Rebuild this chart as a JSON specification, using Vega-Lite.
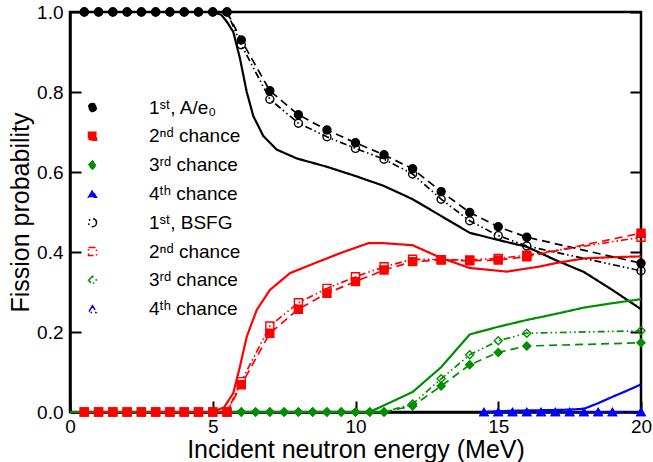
{
  "$schema": "https://vega.github.io/schema/vega-lite/v6.json",
  "width": 571,
  "height": 400,
  "autosize": {"type": "none"},
  "padding": {"left": 70, "top": 12, "right": 12, "bottom": 50},
  "background": "white",
  "config": {
    "view": {"stroke": "black", "strokeWidth": 2.5},
    "font": "Liberation Sans",
    "axis": {
      "domainColor": "black",
      "labelColor": "black",
      "titleColor": "black",
      "domainWidth": 2.5,
      "labelFont": "Liberation Sans",
      "titleFont": "Liberation Sans",
      "titleFontWeight": "normal",
      "labelFontSize": 19,
      "titleFontSize": 25,
      "labelFlush": false
    },
    "legend": {
      "padding": 0,
      "symbolSize": 64,
      "symbolOffset": 0,
      "labelOffset": 47,
      "rowPadding": 8.8,
      "labelFontSize": 19,
      "labelFont": "Liberation Sans",
      "labelColor": "black",
      "symbolStrokeWidth": 1.5,
      "symbolDash": [1, 0]
    }
  },
  "datasets": {
    "d": [
      {"s": "m1", "x": 0, "y": 1}, {"s": "m1", "x": 5, "y": 1}, {"s": "m1", "x": 5.3, "y": 0.993}, {"s": "m1", "x": 5.5, "y": 0.975}, {"s": "m1", "x": 5.72, "y": 0.95}, {"s": "m1", "x": 5.95, "y": 0.885}, {"s": "m1", "x": 6.19, "y": 0.8}, {"s": "m1", "x": 6.42, "y": 0.74}, {"s": "m1", "x": 6.77, "y": 0.69}, {"s": "m1", "x": 7.24, "y": 0.656}, {"s": "m1", "x": 7.94, "y": 0.634}, {"s": "m1", "x": 9, "y": 0.613}, {"s": "m1", "x": 10, "y": 0.59}, {"s": "m1", "x": 11, "y": 0.565}, {"s": "m1", "x": 12, "y": 0.532}, {"s": "m1", "x": 13, "y": 0.49}, {"s": "m1", "x": 14, "y": 0.448}, {"s": "m1", "x": 15, "y": 0.43}, {"s": "m1", "x": 16, "y": 0.413}, {"s": "m1", "x": 17, "y": 0.38}, {"s": "m1", "x": 18, "y": 0.35}, {"s": "m1", "x": 19, "y": 0.305}, {"s": "m1", "x": 20, "y": 0.257},
      {"s": "m2", "x": 0, "y": 0}, {"s": "m2", "x": 5, "y": 0}, {"s": "m2", "x": 5.4, "y": 0.012}, {"s": "m2", "x": 5.72, "y": 0.047}, {"s": "m2", "x": 5.95, "y": 0.113}, {"s": "m2", "x": 6.19, "y": 0.188}, {"s": "m2", "x": 6.54, "y": 0.255}, {"s": "m2", "x": 7, "y": 0.305}, {"s": "m2", "x": 7.7, "y": 0.347}, {"s": "m2", "x": 8.5, "y": 0.37}, {"s": "m2", "x": 9.46, "y": 0.397}, {"s": "m2", "x": 10.45, "y": 0.422}, {"s": "m2", "x": 11, "y": 0.422}, {"s": "m2", "x": 12, "y": 0.417}, {"s": "m2", "x": 13, "y": 0.385}, {"s": "m2", "x": 14, "y": 0.36}, {"s": "m2", "x": 15.3, "y": 0.351}, {"s": "m2", "x": 16.4, "y": 0.363}, {"s": "m2", "x": 17, "y": 0.372}, {"s": "m2", "x": 18, "y": 0.384}, {"s": "m2", "x": 19, "y": 0.387}, {"s": "m2", "x": 20, "y": 0.389},
      {"s": "m3", "x": 0, "y": 0}, {"s": "m3", "x": 10.5, "y": 0}, {"s": "m3", "x": 12, "y": 0.05}, {"s": "m3", "x": 13, "y": 0.112}, {"s": "m3", "x": 14, "y": 0.194}, {"s": "m3", "x": 15, "y": 0.213}, {"s": "m3", "x": 16, "y": 0.23}, {"s": "m3", "x": 17, "y": 0.245}, {"s": "m3", "x": 18, "y": 0.261}, {"s": "m3", "x": 19, "y": 0.272}, {"s": "m3", "x": 20, "y": 0.282},
      {"s": "m4", "x": 14.5, "y": 0}, {"s": "m4", "x": 15, "y": 0.002}, {"s": "m4", "x": 16, "y": 0.004}, {"s": "m4", "x": 17, "y": 0.005}, {"s": "m4", "x": 17.5, "y": 0.006}, {"s": "m4", "x": 18, "y": 0.008}, {"s": "m4", "x": 18.5, "y": 0.022}, {"s": "m4", "x": 19, "y": 0.038}, {"s": "m4", "x": 19.5, "y": 0.053}, {"s": "m4", "x": 20, "y": 0.069},
      {"s": "a1", "x": 0.5, "y": 1}, {"s": "a1", "x": 1, "y": 1}, {"s": "a1", "x": 1.5, "y": 1}, {"s": "a1", "x": 2, "y": 1}, {"s": "a1", "x": 2.5, "y": 1}, {"s": "a1", "x": 3, "y": 1}, {"s": "a1", "x": 3.5, "y": 1}, {"s": "a1", "x": 4, "y": 1}, {"s": "a1", "x": 4.5, "y": 1}, {"s": "a1", "x": 5, "y": 1}, {"s": "a1", "x": 5.5, "y": 1}, {"s": "a1", "x": 6, "y": 0.93}, {"s": "a1", "x": 7, "y": 0.803}, {"s": "a1", "x": 8, "y": 0.743}, {"s": "a1", "x": 9, "y": 0.705}, {"s": "a1", "x": 10, "y": 0.673}, {"s": "a1", "x": 11, "y": 0.643}, {"s": "a1", "x": 12, "y": 0.608}, {"s": "a1", "x": 13, "y": 0.551}, {"s": "a1", "x": 14, "y": 0.499}, {"s": "a1", "x": 15, "y": 0.463}, {"s": "a1", "x": 16, "y": 0.437}, {"s": "a1", "x": 20, "y": 0.372},
      {"s": "a2", "x": 0.5, "y": 0}, {"s": "a2", "x": 1, "y": 0}, {"s": "a2", "x": 1.5, "y": 0}, {"s": "a2", "x": 2, "y": 0}, {"s": "a2", "x": 2.5, "y": 0}, {"s": "a2", "x": 3, "y": 0}, {"s": "a2", "x": 3.5, "y": 0}, {"s": "a2", "x": 4, "y": 0}, {"s": "a2", "x": 4.5, "y": 0}, {"s": "a2", "x": 5, "y": 0}, {"s": "a2", "x": 5.5, "y": 0}, {"s": "a2", "x": 6, "y": 0.068}, {"s": "a2", "x": 7, "y": 0.197}, {"s": "a2", "x": 8, "y": 0.257}, {"s": "a2", "x": 9, "y": 0.297}, {"s": "a2", "x": 10, "y": 0.326}, {"s": "a2", "x": 11, "y": 0.355}, {"s": "a2", "x": 12, "y": 0.376}, {"s": "a2", "x": 13, "y": 0.38}, {"s": "a2", "x": 14, "y": 0.378}, {"s": "a2", "x": 15, "y": 0.38}, {"s": "a2", "x": 16, "y": 0.388}, {"s": "a2", "x": 20, "y": 0.447},
      {"s": "a3", "x": 6, "y": 0}, {"s": "a3", "x": 6.5, "y": 0}, {"s": "a3", "x": 7, "y": 0}, {"s": "a3", "x": 7.5, "y": 0}, {"s": "a3", "x": 8, "y": 0}, {"s": "a3", "x": 8.5, "y": 0}, {"s": "a3", "x": 9, "y": 0}, {"s": "a3", "x": 9.5, "y": 0}, {"s": "a3", "x": 10, "y": 0}, {"s": "a3", "x": 10.5, "y": 0}, {"s": "a3", "x": 11, "y": 0}, {"s": "a3", "x": 12, "y": 0.015}, {"s": "a3", "x": 13, "y": 0.065}, {"s": "a3", "x": 14, "y": 0.118}, {"s": "a3", "x": 15, "y": 0.149}, {"s": "a3", "x": 16, "y": 0.165}, {"s": "a3", "x": 20, "y": 0.173},
      {"s": "a4", "x": 14.5, "y": 0}, {"s": "a4", "x": 15, "y": 0}, {"s": "a4", "x": 15.5, "y": 0}, {"s": "a4", "x": 16, "y": 0}, {"s": "a4", "x": 16.5, "y": 0}, {"s": "a4", "x": 17, "y": 0}, {"s": "a4", "x": 17.5, "y": 0}, {"s": "a4", "x": 18, "y": 0}, {"s": "a4", "x": 18.5, "y": 0}, {"s": "a4", "x": 19, "y": 0}, {"s": "a4", "x": 20, "y": 0},
      {"s": "b1", "x": 0.5, "y": 1}, {"s": "b1", "x": 1, "y": 1}, {"s": "b1", "x": 1.5, "y": 1}, {"s": "b1", "x": 2, "y": 1}, {"s": "b1", "x": 2.5, "y": 1}, {"s": "b1", "x": 3, "y": 1}, {"s": "b1", "x": 3.5, "y": 1}, {"s": "b1", "x": 4, "y": 1}, {"s": "b1", "x": 4.5, "y": 1}, {"s": "b1", "x": 5, "y": 1}, {"s": "b1", "x": 5.5, "y": 1}, {"s": "b1", "x": 6, "y": 0.918}, {"s": "b1", "x": 7, "y": 0.782}, {"s": "b1", "x": 8, "y": 0.722}, {"s": "b1", "x": 9, "y": 0.688}, {"s": "b1", "x": 10, "y": 0.659}, {"s": "b1", "x": 11, "y": 0.632}, {"s": "b1", "x": 12, "y": 0.595}, {"s": "b1", "x": 13, "y": 0.532}, {"s": "b1", "x": 14, "y": 0.478}, {"s": "b1", "x": 15, "y": 0.441}, {"s": "b1", "x": 16, "y": 0.415}, {"s": "b1", "x": 20, "y": 0.353},
      {"s": "b2", "x": 0.5, "y": 0}, {"s": "b2", "x": 1, "y": 0}, {"s": "b2", "x": 1.5, "y": 0}, {"s": "b2", "x": 2, "y": 0}, {"s": "b2", "x": 2.5, "y": 0}, {"s": "b2", "x": 3, "y": 0}, {"s": "b2", "x": 3.5, "y": 0}, {"s": "b2", "x": 4, "y": 0}, {"s": "b2", "x": 4.5, "y": 0}, {"s": "b2", "x": 5, "y": 0}, {"s": "b2", "x": 5.5, "y": 0}, {"s": "b2", "x": 6, "y": 0.076}, {"s": "b2", "x": 7, "y": 0.215}, {"s": "b2", "x": 8, "y": 0.273}, {"s": "b2", "x": 9, "y": 0.309}, {"s": "b2", "x": 10, "y": 0.338}, {"s": "b2", "x": 11, "y": 0.363}, {"s": "b2", "x": 12, "y": 0.382}, {"s": "b2", "x": 13, "y": 0.381}, {"s": "b2", "x": 14, "y": 0.38}, {"s": "b2", "x": 15, "y": 0.384}, {"s": "b2", "x": 16, "y": 0.392}, {"s": "b2", "x": 20, "y": 0.437},
      {"s": "b3", "x": 6, "y": 0}, {"s": "b3", "x": 6.5, "y": 0}, {"s": "b3", "x": 7, "y": 0}, {"s": "b3", "x": 7.5, "y": 0}, {"s": "b3", "x": 8, "y": 0}, {"s": "b3", "x": 8.5, "y": 0}, {"s": "b3", "x": 9, "y": 0}, {"s": "b3", "x": 9.5, "y": 0}, {"s": "b3", "x": 10, "y": 0}, {"s": "b3", "x": 10.5, "y": 0}, {"s": "b3", "x": 11, "y": 0}, {"s": "b3", "x": 12, "y": 0.02}, {"s": "b3", "x": 13, "y": 0.083}, {"s": "b3", "x": 14, "y": 0.143}, {"s": "b3", "x": 15, "y": 0.178}, {"s": "b3", "x": 16, "y": 0.197}, {"s": "b3", "x": 20, "y": 0.203},
      {"s": "b4", "x": 14.5, "y": 0}, {"s": "b4", "x": 15, "y": 0}, {"s": "b4", "x": 15.5, "y": 0}, {"s": "b4", "x": 16, "y": 0}, {"s": "b4", "x": 16.5, "y": 0}, {"s": "b4", "x": 17, "y": 0}, {"s": "b4", "x": 17.5, "y": 0}, {"s": "b4", "x": 18, "y": 0}, {"s": "b4", "x": 18.5, "y": 0}, {"s": "b4", "x": 19, "y": 0}, {"s": "b4", "x": 20, "y": 0}
    ]
  },
  "data": {"name": "d"},
  "layer": [
    {
      "transform": [{"filter": {"field": "s", "oneOf": ["m1", "m2", "m3", "m4"]}}],
      "mark": {"type": "line", "strokeWidth": 2.2, "clip": false},
      "encoding": {
        "x": {"field": "x", "type": "quantitative", "scale": {"domain": [0, 20], "nice": false, "zero": false},
              "axis": {"orient": "bottom", "values": [0, 5, 10, 15, 20], "grid": false,
                       "ticks": true, "tickSize": -11, "tickWidth": 2, "tickColor": "black", "tickOpacity": 1,
                       "labelPadding": 16, "title": "Incident neutron energy (MeV)", "titlePadding": 1}},
        "y": {"field": "y", "type": "quantitative", "scale": {"domain": [0, 1], "nice": false},
              "axis": {"orient": "left", "values": [0, 0.2, 0.4, 0.6, 0.8, 1], "format": ".1f",
                       "ticks": false, "labelPadding": 7, "title": "Fission probability", "titlePadding": 3,
                       "grid": true, "gridColor": "black", "gridOpacity": 1, "gridWidth": 2, "gridDash": [11, 549, 11, 0]}},
        "stroke": {"field": "s", "type": "nominal",
                   "scale": {"domain": ["a1", "a2", "a3", "a4", "b1", "b2", "b3", "b4", "m1", "m2", "m3", "m4"], "range": ["#000000", "#ff0000", "#008f00", "#0000ff", "#000000", "#ff0000", "#008f00", "#0000ff", "#000000", "#ff0000", "#008f00", "#0000ff"]},
                   "legend": {"values": ["a1", "a2", "a3", "a4", "b1", "b2", "b3", "b4"], "title": null, "orient": "none", "legendX": 13, "legendY": 86,
                              "labelExpr": "datum.value == 'a1' ? '1ˢᵗ, A/e₀' : datum.value == 'b1' ? '1ˢᵗ, BSFG' : (datum.value == 'a2' || datum.value == 'b2') ? '2ⁿᵈ chance' : (datum.value == 'a3' || datum.value == 'b3') ? '3ʳᵈ chance' : '4ᵗʰ chance'"}},
        "strokeDash": {"field": "s", "type": "nominal",
                       "scale": {"domain": ["a1", "a2", "a3", "a4", "b1", "b2", "b3", "b4", "m1", "m2", "m3", "m4"], "range": [[8, 5], [8, 5], [8, 5], [8, 5], [7, 3, 1.5, 3, 1.5, 3], [7, 3, 1.5, 3, 1.5, 3], [7, 3, 1.5, 3, 1.5, 3], [7, 3, 1.5, 3, 1.5, 3], [1, 0], [1, 0], [1, 0], [1, 0]]},
                       "legend": null}
      }
    },
    {
      "transform": [{"filter": {"field": "s", "oneOf": ["a1", "a2", "a3", "a4", "b1", "b2", "b3", "b4"]}}],
      "mark": {"type": "line", "strokeWidth": 1.7, "clip": false},
      "encoding": {
        "x": {"field": "x", "type": "quantitative", "scale": {"domain": [0, 20], "nice": false, "zero": false}},
        "y": {"field": "y", "type": "quantitative", "scale": {"domain": [0, 1], "nice": false}},
        "stroke": {"field": "s", "type": "nominal",
                   "scale": {"domain": ["a1", "a2", "a3", "a4", "b1", "b2", "b3", "b4", "m1", "m2", "m3", "m4"], "range": ["#000000", "#ff0000", "#008f00", "#0000ff", "#000000", "#ff0000", "#008f00", "#0000ff", "#000000", "#ff0000", "#008f00", "#0000ff"]},
                   "legend": {"values": ["a1", "a2", "a3", "a4", "b1", "b2", "b3", "b4"], "title": null, "orient": "none", "legendX": 13, "legendY": 86}},
        "strokeDash": {"field": "s", "type": "nominal",
                       "scale": {"domain": ["a1", "a2", "a3", "a4", "b1", "b2", "b3", "b4", "m1", "m2", "m3", "m4"], "range": [[8, 5], [8, 5], [8, 5], [8, 5], [7, 3, 1.5, 3, 1.5, 3], [7, 3, 1.5, 3, 1.5, 3], [7, 3, 1.5, 3, 1.5, 3], [7, 3, 1.5, 3, 1.5, 3], [1, 0], [1, 0], [1, 0], [1, 0]]},
                       "legend": null}
      }
    },
    {
      "transform": [{"filter": {"field": "s", "oneOf": ["a1", "a2", "a3", "a4", "b1", "b2", "b3", "b4"]}}],
      "mark": {"type": "point", "size": 64, "strokeWidth": 1.4, "opacity": 1, "clip": false},
      "encoding": {
        "x": {"field": "x", "type": "quantitative", "scale": {"domain": [0, 20], "nice": false, "zero": false}},
        "y": {"field": "y", "type": "quantitative", "scale": {"domain": [0, 1], "nice": false}},
        "stroke": {"field": "s", "type": "nominal",
                   "scale": {"domain": ["a1", "a2", "a3", "a4", "b1", "b2", "b3", "b4", "m1", "m2", "m3", "m4"], "range": ["#000000", "#ff0000", "#008f00", "#0000ff", "#000000", "#ff0000", "#008f00", "#0000ff", "#000000", "#ff0000", "#008f00", "#0000ff"]},
                   "legend": {"values": ["a1", "a2", "a3", "a4", "b1", "b2", "b3", "b4"], "title": null, "orient": "none", "legendX": 13, "legendY": 86}},
        "fill": {"field": "s", "type": "nominal",
                 "scale": {"domain": ["a1", "a2", "a3", "a4", "b1", "b2", "b3", "b4", "m1", "m2", "m3", "m4"], "range": ["#000000", "#ff0000", "#008f00", "#0000ff", "transparent", "transparent", "transparent", "transparent", "#000000", "#ff0000", "#008f00", "#0000ff"]},
                 "legend": {"values": ["a1", "a2", "a3", "a4", "b1", "b2", "b3", "b4"], "title": null, "orient": "none", "legendX": 13, "legendY": 86}},
        "shape": {"field": "s", "type": "nominal",
                  "scale": {"domain": ["a1", "a2", "a3", "a4", "b1", "b2", "b3", "b4", "m1", "m2", "m3", "m4"], "range": ["circle", "square", "diamond", "triangle-up", "circle", "square", "diamond", "triangle-up", "circle", "circle", "circle", "circle"]},
                  "legend": {"values": ["a1", "a2", "a3", "a4", "b1", "b2", "b3", "b4"], "title": null, "orient": "none", "legendX": 13, "legendY": 86}}
      }
    }
  ]
}
